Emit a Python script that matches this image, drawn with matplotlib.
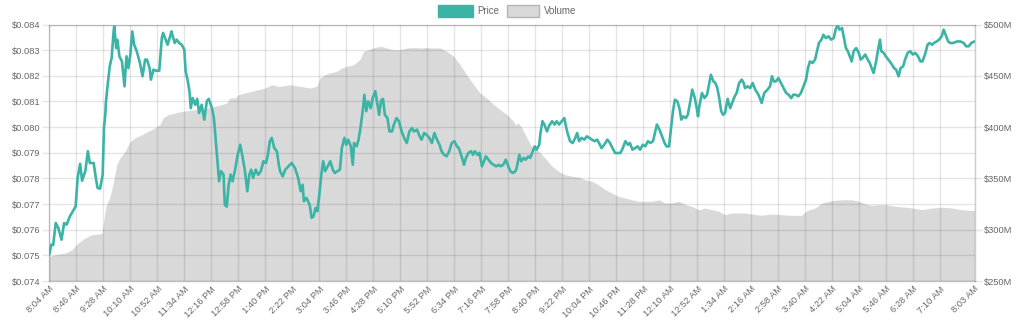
import matplotlib
matplotlib.use("Agg")
import matplotlib.pyplot as plt
from matplotlib.patches import Rectangle
from matplotlib.ticker import FuncFormatter

plt.rcParams['font.family'] = ['Liberation Sans', 'DejaVu Sans']

# Minutes elapsed since 8:04 AM and the traded price in USD
price_minute = [
    0, 3, 6, 10, 14, 19, 23, 27, 32, 37, 41, 44, 48, 51, 56, 60, 63, 69, 72, 75,
    79, 83, 85, 87, 88, 90, 92, 94, 97, 100, 101, 104, 106, 109, 113, 117, 120, 123, 126, 129,
    132, 136, 141, 145, 149, 152, 156, 158, 162, 166, 171, 175, 177, 181, 184, 188, 190, 195, 198, 202,
    206, 210, 212, 215, 218, 220, 223, 227, 230, 233, 237, 241, 245, 248, 253, 256, 259, 262, 264, 267,
    271, 273, 276, 279, 282, 285, 289, 293, 297, 300, 304, 308, 311, 314, 317, 321, 325, 329, 333, 337,
    340, 343, 346, 350, 354, 357,
    359, 363, 367, 372, 377, 382, 387, 391, 394, 396, 400, 405, 408, 411, 414, 417, 420, 423, 426, 429,
    433, 437, 441, 444, 448, 452, 455, 459, 462, 465, 469, 472, 474, 478, 481, 484, 488, 490, 493, 496,
    500, 503, 507, 509, 513, 516, 519, 522, 526, 529, 533, 536, 540, 544, 548, 552, 556, 560, 564, 567,
    572, 576, 579, 583, 587, 591, 595, 599, 603, 607, 610, 614, 618, 622, 626, 630, 634, 637, 642, 645,
    648, 652, 656, 659, 662, 666, 669, 673, 676, 679, 683, 687, 691, 695, 699, 702, 706, 710, 713, 717,
    721,
    725, 727, 731, 734, 738, 741, 745, 748, 752, 755, 758, 762, 764, 767, 770, 774, 777, 782, 786, 789,
    793, 797, 801, 803, 806, 810, 814, 818, 821, 824, 828, 832, 836, 840, 844, 848, 852, 855, 859, 863,
    868, 872, 876, 880, 884, 888, 891, 896, 900, 903, 907, 911, 915, 919, 923, 927, 931, 935, 939, 942,
    945, 949, 953, 957, 960, 964, 967, 970, 973, 977, 980, 983, 986, 990, 993, 997, 1000, 1004, 1007, 1009,
    1011, 1015, 1019, 1023, 1026, 1029, 1033, 1036, 1039, 1042, 1045, 1048, 1051, 1055, 1059, 1063, 1066, 1069, 1073, 1077,
    1080,
    1082, 1086, 1090, 1094, 1098, 1103, 1108, 1112, 1117, 1121, 1124, 1127, 1130, 1134, 1138, 1142, 1146, 1150, 1154, 1157,
    1161, 1165, 1169, 1173, 1177, 1180, 1183, 1187, 1191, 1194, 1197, 1201, 1204, 1208, 1212, 1216, 1220, 1223, 1226, 1229,
    1233, 1236, 1239, 1242, 1246, 1248, 1251, 1255, 1259, 1262, 1265, 1269, 1273, 1276, 1279, 1282, 1286, 1289, 1292, 1294,
    1298, 1301, 1305, 1309, 1314, 1317, 1321, 1324, 1328, 1331, 1335, 1339, 1343, 1347, 1351, 1355, 1358, 1362, 1366, 1369,
    1373, 1376, 1380, 1384, 1388, 1391, 1395, 1398, 1401, 1406, 1412, 1417, 1422, 1426, 1430, 1434, 1439,
]
price_usd = [
    0.07503, 0.07542, 0.07540, 0.07626, 0.07607, 0.07561, 0.07626, 0.07620, 0.07652, 0.07674,
    0.07691, 0.07802, 0.07857, 0.07791, 0.07828, 0.07906, 0.07860, 0.07860, 0.07808, 0.07763,
    0.07760, 0.07814, 0.07996, 0.08048, 0.08094, 0.08146, 0.08191, 0.08237, 0.08270, 0.08373,
    0.08393, 0.08308, 0.08340, 0.08276, 0.08256, 0.08159, 0.08276, 0.08230, 0.08282, 0.08373,
    0.08321, 0.08296, 0.08250, 0.08198, 0.08263, 0.08263, 0.08230, 0.08185, 0.08224, 0.08220,
    0.08220, 0.08347, 0.08367, 0.08341, 0.08321, 0.08354, 0.08373, 0.08328, 0.08341, 0.08328,
    0.08321, 0.08302, 0.08218, 0.08185, 0.08140, 0.08074, 0.08113, 0.08087, 0.08110, 0.08055,
    0.08087, 0.08029, 0.08101, 0.08110, 0.08074, 0.08035, 0.07945, 0.07853, 0.07789, 0.07828,
    0.07815, 0.07697, 0.07690, 0.07775, 0.07815, 0.07789, 0.07834, 0.07892, 0.07931, 0.07892,
    0.07834, 0.07750, 0.07814, 0.07834, 0.07802, 0.07834, 0.07814, 0.07828, 0.07867, 0.07860,
    0.07892, 0.07945, 0.07958, 0.07918, 0.07906, 0.07853,
    0.07828, 0.07808, 0.07834, 0.07847, 0.07860, 0.07841, 0.07802, 0.07750, 0.07775, 0.07711,
    0.07724, 0.07697, 0.07646, 0.07652, 0.07685, 0.07672, 0.07737, 0.07814, 0.07867, 0.07828,
    0.07847, 0.07867, 0.07834, 0.07821, 0.07828, 0.07834, 0.07918, 0.07958, 0.07931, 0.07951,
    0.07925, 0.07853, 0.07938, 0.07925, 0.07951, 0.07997, 0.08074, 0.08126, 0.08062, 0.08100,
    0.08074, 0.08113, 0.08140, 0.08110, 0.08048, 0.08104, 0.08110, 0.08048, 0.08035, 0.07983,
    0.07983, 0.08010, 0.08035, 0.08022, 0.07983, 0.07958, 0.07938, 0.07983, 0.07996, 0.07983,
    0.07990, 0.07964, 0.07951, 0.07977, 0.07970, 0.07958, 0.07938, 0.07977, 0.07951, 0.07931,
    0.07906, 0.07892, 0.07886, 0.07906, 0.07938, 0.07945, 0.07925, 0.07918, 0.07880, 0.07853,
    0.07880, 0.07900, 0.07906, 0.07892, 0.07906, 0.07892, 0.07900, 0.07847, 0.07867, 0.07886,
    0.07873, 0.07860, 0.07853, 0.07847, 0.07853, 0.07847, 0.07853, 0.07873, 0.07853, 0.07828,
    0.07821,
    0.07828, 0.07841, 0.07892, 0.07867, 0.07880, 0.07873, 0.07886, 0.07880, 0.07906, 0.07925,
    0.07912, 0.07931, 0.07977, 0.08023, 0.08010, 0.07983, 0.08003, 0.08023, 0.08010, 0.08023,
    0.08010, 0.08023, 0.08035, 0.08010, 0.07977, 0.07945, 0.07938, 0.07958, 0.07977, 0.07945,
    0.07958, 0.07951, 0.07964, 0.07958, 0.07951, 0.07945, 0.07951, 0.07938, 0.07918, 0.07931,
    0.07951, 0.07938, 0.07918, 0.07899, 0.07899, 0.07899, 0.07912, 0.07945, 0.07931, 0.07938,
    0.07912, 0.07918, 0.07925, 0.07912, 0.07931, 0.07925, 0.07945, 0.07938, 0.07945, 0.07977,
    0.08010, 0.07990, 0.07964, 0.07938, 0.07925, 0.07925, 0.07996, 0.08062, 0.08107, 0.08100,
    0.08074, 0.08029, 0.08042, 0.08035, 0.08048, 0.08100, 0.08146, 0.08113, 0.08074, 0.08042,
    0.08081, 0.08133, 0.08113, 0.08126, 0.08165, 0.08204, 0.08178, 0.08172, 0.08152, 0.08113,
    0.08062, 0.08048, 0.08055, 0.08110, 0.08074, 0.08100, 0.08120, 0.08133, 0.08172, 0.08185,
    0.08172,
    0.08152, 0.08159, 0.08152, 0.08172, 0.08146, 0.08126, 0.08094, 0.08133, 0.08146, 0.08159,
    0.08198, 0.08178, 0.08178, 0.08191, 0.08172, 0.08152, 0.08133, 0.08126, 0.08113, 0.08126,
    0.08126, 0.08120, 0.08133, 0.08159, 0.08185, 0.08230, 0.08256, 0.08250, 0.08263, 0.08296,
    0.08328, 0.08341, 0.08360, 0.08347, 0.08354, 0.08341, 0.08347, 0.08380, 0.08397, 0.08380,
    0.08386, 0.08347, 0.08308, 0.08296, 0.08270, 0.08256, 0.08296, 0.08308, 0.08289, 0.08263,
    0.08270, 0.08283, 0.08263, 0.08250, 0.08230, 0.08211, 0.08256, 0.08302, 0.08341, 0.08296,
    0.08289, 0.08276, 0.08263, 0.08250, 0.08230, 0.08224, 0.08198, 0.08230, 0.08237, 0.08263,
    0.08289, 0.08296, 0.08283, 0.08289, 0.08276, 0.08256, 0.08256, 0.08283, 0.08321, 0.08328,
    0.08321, 0.08328, 0.08334, 0.08341, 0.08354, 0.08380, 0.08354, 0.08334, 0.08328, 0.08328,
    0.08334, 0.08334, 0.08328, 0.08315, 0.08315, 0.08328, 0.08334,
]

# Minutes elapsed since 8:04 AM and 24h volume in millions of USD
vol_minute = [
    0, 14, 24, 35, 45, 56, 66, 76, 82, 86, 89, 94, 100, 105, 110, 118, 126, 133, 144, 154,
    164, 172, 177, 185, 196, 206, 216, 227, 237, 247, 258, 268, 276, 281, 289, 294, 304, 315, 325, 336,
    346, 356,
    359, 375, 390, 406, 416, 421, 429, 437, 447, 455, 463, 473, 483, 489, 496, 504, 515, 525, 535, 546,
    556, 566, 577, 587, 597, 608, 618, 629, 639, 649, 660, 670, 680, 691, 701, 712, 722,
    725, 730, 735, 743, 750, 761, 771, 782, 792, 802, 813, 823, 833, 844, 854, 865, 875, 885, 896, 906,
    916, 927, 937, 948, 958, 968, 979, 989, 999, 1010, 1020, 1031, 1041, 1051, 1062, 1072,
    1082, 1093, 1108, 1124, 1139, 1155, 1170, 1178, 1191, 1202, 1217, 1233, 1248, 1259, 1269, 1279, 1290, 1300, 1316, 1331,
    1347, 1357, 1373, 1388, 1404, 1419, 1439,
]
vol_musd = [
    274.1, 276.3, 277.0, 280.5, 287.0, 292.0, 295.1, 295.7, 296.4, 314.6, 324.4, 330.9, 347.2, 363.4, 369.9, 376.4, 386.2, 389.4, 392.6, 395.9,
    399.1, 402.3, 408.9, 412.1, 413.7, 415.4, 416.0, 417.0, 417.0, 418.6, 420.3, 421.9, 423.5, 428.4, 428.4, 431.6, 433.2, 434.9, 436.5, 438.1,
    441.3, 439.7,
    439.8, 441.3, 439.7, 438.1, 439.7, 447.9, 451.1, 452.7, 454.4, 457.6, 459.3, 460.8, 465.7, 473.9, 475.4, 477.1, 478.8, 477.1, 475.4, 475.4,
    477.1, 477.6, 477.1, 477.6, 477.1, 477.1, 473.9, 469.0, 460.8, 451.1, 441.3, 433.2, 428.4, 421.9, 417.0, 412.1, 405.6,
    402.3, 403.9, 399.1, 389.4, 381.3, 376.4, 369.9, 361.8, 356.9, 353.6, 352.0, 351.5, 348.7, 347.2, 343.9, 339.0, 335.8, 332.5, 330.9, 329.2,
    327.7, 327.7, 327.7, 329.2, 326.0, 326.0, 327.7, 324.4, 322.8, 319.5, 321.1, 319.5, 317.9, 314.6, 316.3, 316.3,
    316.3, 315.3, 314.0, 315.3, 314.6, 314.0, 314.0, 318.5, 321.1, 326.0, 328.3, 329.2, 329.2, 327.7, 325.1, 323.8, 324.4, 324.4, 322.8, 321.9,
    320.8, 319.5, 321.1, 321.9, 321.1, 319.5, 318.5,
]

tick_minutes = [0, 42, 84, 126, 168, 210, 252, 294, 336, 378, 420, 462, 504, 546, 588, 630,
                672, 714, 756, 798, 840, 882, 924, 966, 1008, 1050, 1092, 1134, 1176, 1218,
                1260, 1302, 1344, 1386, 1439]
tick_labels = ["8:04 AM", "8:46 AM", "9:28 AM", "10:10 AM", "10:52 AM", "11:34 AM", "12:16 PM",
               "12:58 PM", "1:40 PM", "2:22 PM", "3:04 PM", "3:46 PM", "4:28 PM", "5:10 PM",
               "5:52 PM", "6:34 PM", "7:16 PM", "7:58 PM", "8:40 PM", "9:22 PM", "10:04 PM",
               "10:46 PM", "11:28 PM", "12:10 AM", "12:52 AM", "1:34 AM", "2:16 AM", "2:58 AM",
               "3:40 AM", "4:22 AM", "5:04 AM", "5:46 AM", "6:28 AM", "7:10 AM", "8:03 AM"]
price_ticks = [0.074, 0.075, 0.076, 0.077, 0.078, 0.079, 0.080, 0.081, 0.082, 0.083, 0.084]
volume_ticks = [250, 300, 350, 400, 450, 500]

PRICE_COLOR = '#3bb4a6'
VOLUME_COLOR = '#d9d9d9'
VOLUME_EDGE = '#b5b5b5'
TICK_COLOR = '#e6e6e6'
LABEL_COLOR = '#666666'
FS = 6.7

W, H = 1024, 336
fig = plt.figure(figsize=(W / 100, H / 100), dpi=100)
ax = fig.add_axes([49.3 / W, 55 / H, 925.2 / W, 256.5 / H])
ax2 = ax.twinx()

# Volume area sits behind the price axis
ax2.fill_between(vol_minute, volume_ticks[0], vol_musd, color=VOLUME_COLOR, lw=0)
ax2.set_ylim(volume_ticks[0], volume_ticks[-1])
ax2.set_yticks(volume_ticks)
ax2.yaxis.set_major_formatter(FuncFormatter(lambda v, _: f"${v:.0f}M"))

ax.plot(price_minute, price_usd, color=PRICE_COLOR, lw=1.9,
        solid_joinstyle='round', solid_capstyle='round', zorder=3)
ax.set_zorder(ax2.get_zorder() + 1)
ax.patch.set_visible(False)

ax.set_xlim(0, 1439)
ax.set_ylim(price_ticks[0], price_ticks[-1])
ax.set_yticks(price_ticks)
ax.yaxis.set_major_formatter(FuncFormatter(lambda v, _: f"${v:.3f}"))
ax.set_xticks(tick_minutes)
ax.set_xticklabels(tick_labels, rotation=45, ha='right', va='top', rotation_mode='anchor')

# Translucent grid so it shows over the volume area as well
ax.set_axisbelow(True)
ax.grid(True, color='black', alpha=0.1, lw=1)

for a in (ax, ax2):
    for s in a.spines.values():
        s.set_color('black')
        s.set_alpha(0.1)
        s.set_linewidth(1)
    a.tick_params(colors=TICK_COLOR, labelcolor=LABEL_COLOR, labelsize=FS,
                  length=5, width=1)
ax.tick_params(axis='y', pad=1.5)
ax.tick_params(axis='x', length=0, pad=2.5)
ax2.tick_params(axis='y', pad=1.5)

# Legend across the top
def legend_item(x0, w, face, edge, label, tx):
    fig.add_artist(Rectangle((x0 / W, (H - 16.5) / H), w / W, 12 / H,
                             transform=fig.transFigure, facecolor=face,
                             edgecolor=edge, lw=1))
    fig.text(tx / W, (H - 10.5) / H, label, color=LABEL_COLOR, fontsize=7,
             ha='left', va='center')

legend_item(438, 35, PRICE_COLOR, PRICE_COLOR, "Price", 477)
legend_item(507, 32, VOLUME_COLOR, VOLUME_EDGE, "Volume", 544)

fig.savefig("out.png", dpi=100, facecolor='white')
